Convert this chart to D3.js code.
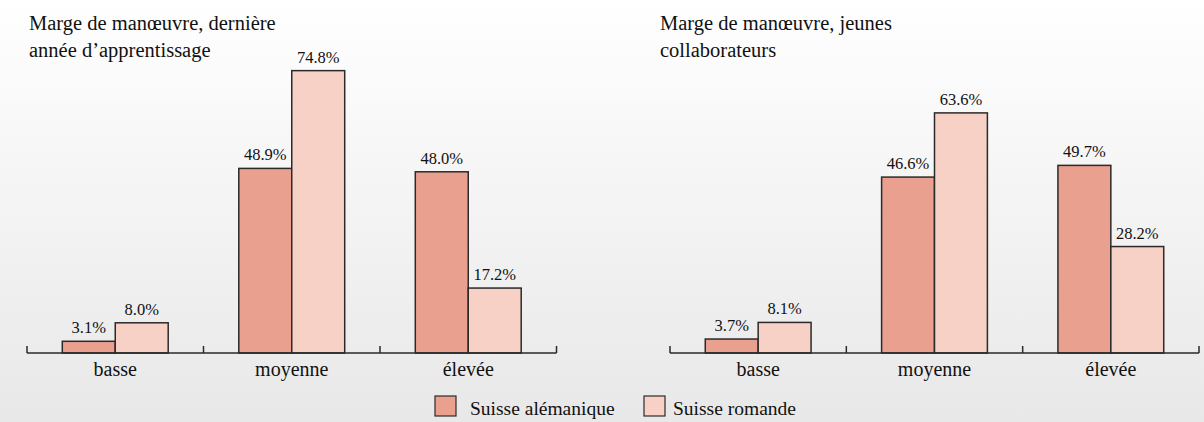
<!DOCTYPE html>
<html>
<head>
<meta charset="utf-8">
<script src="https://cdn.jsdelivr.net/npm/d3@7"></script>
<style>
  html, body { margin: 0; padding: 0; }
  body { width: 1204px; height: 422px; overflow: hidden; }
</style>
</head>
<body>
<script>
//categories, series and values
var categories = ["basse", "moyenne", "élevée"];
var seriesNames = ["Suisse alémanique", "Suisse romande"];
var titlesLeft = ["Marge de manœuvre, dernière", "année d’apprentissage"];
var titlesRight = ["Marge de manœuvre, jeunes", "collaborateurs"];
var apprentisAlemanique = [3.1, 48.9, 48.0];
var apprentisRomande = [8.0, 74.8, 17.2];
var jeunesAlemanique = [3.7, 46.6, 49.7];
var jeunesRomande = [8.1, 63.6, 28.2];

var colors = ["#e9a08f", "#f7d1c6"];
var fontFam = "'Liberation Serif', 'Times New Roman'";

var width = 1204, height = 422;

var svg = d3.select("body").append("svg")
  .attr("width", width)
  .attr("height", height);

//background gradient
var grad = svg.append("defs").append("linearGradient")
  .attr("id", "bg").attr("x1", 0).attr("y1", 0).attr("x2", 0).attr("y2", 1);
grad.append("stop").attr("offset", "0%").attr("stop-color", "#ffffff");
grad.append("stop").attr("offset", "100%").attr("stop-color", "#e8e8e8");
svg.append("rect").attr("width", width).attr("height", height).attr("fill", "url(#bg)");

var baseY = 353;
var y = d3.scaleLinear().domain([0, 80]).range([baseY, baseY - 302]);

function label(sel, size){
  return sel.style("font-family", fontFam)
    .style("font-size", size + "px")
    .style("fill", "#111");
}

function panel(x0, x1, titleX, titles, alem, rom){
  var g = svg.append("g");
  var x = d3.scaleBand().domain(categories).range([x0, x1]).paddingInner(0).paddingOuter(0);
  var bw = x.bandwidth();
  var xs = d3.scaleBand().domain(seriesNames).range([bw * 0.2, bw * 0.8]);

  //title
  label(g.selectAll(".title")
    .data(titles)
    .enter()
    .append("text")
    .attr("x", titleX)
    .attr("y", function(d, i){ return 30 + i * 27; }), 20.5)
    .text(function(d){ return d; });

  var rows = [];
  categories.forEach(function(c, i){
    rows.push({cat: c, s: seriesNames[0], v: alem[i], k: 0});
    rows.push({cat: c, s: seriesNames[1], v: rom[i], k: 1});
  });

  g.selectAll(".bar")
    .data(rows)
    .enter()
    .append("rect")
    .attr("x", function(d){ return x(d.cat) + xs(d.s); })
    .attr("width", xs.bandwidth())
    .attr("y", function(d){ return y(d.v); })
    .attr("height", function(d){ return baseY - y(d.v); })
    .attr("fill", function(d){ return colors[d.k]; })
    .attr("stroke", "#2a2a2a")
    .attr("stroke-width", 1.5);

  label(g.selectAll(".num")
    .data(rows)
    .enter()
    .append("text")
    .attr("text-anchor", "middle")
    .attr("x", function(d){ return x(d.cat) + xs(d.s) + xs.bandwidth() / 2; })
    .attr("y", function(d){ return y(d.v) - 8; }), 16.5)
    .text(function(d){ return d.v.toFixed(1) + "%"; });

  //axis: baseline with upward ticks at the band edges
  g.append("line")
    .attr("x1", x0).attr("x2", x1)
    .attr("y1", baseY).attr("y2", baseY)
    .attr("stroke", "#2a2a2a").attr("stroke-width", 1.5);
  var edges = categories.map(function(c){ return x(c); }).concat([x1]);
  g.selectAll(".tick")
    .data(edges)
    .enter()
    .append("line")
    .attr("x1", function(d){ return d; }).attr("x2", function(d){ return d; })
    .attr("y1", baseY).attr("y2", baseY - 7)
    .attr("stroke", "#2a2a2a").attr("stroke-width", 1.5);

  label(g.selectAll(".cat")
    .data(categories)
    .enter()
    .append("text")
    .attr("text-anchor", "middle")
    .attr("x", function(d){ return x(d) + bw / 2; })
    .attr("y", 376), 20)
    .text(function(d){ return d; });
}

panel(27, 556.5, 29, titlesLeft, apprentisAlemanique, apprentisRomande);
panel(670, 1199, 660, titlesRight, jeunesAlemanique, jeunesRomande);

//legend
var legendX = [435, 644];
var leg = svg.selectAll(".legend")
  .data(seriesNames)
  .enter()
  .append("g")
  .attr("transform", function(d, i){ return "translate(" + legendX[i] + ",396)"; });
leg.append("rect")
  .attr("width", 21).attr("height", 20)
  .attr("fill", function(d, i){ return colors[i]; })
  .attr("stroke", "#2a2a2a").attr("stroke-width", 1.2);
label(leg.append("text")
  .attr("x", function(d, i){ return i ? 29 : 35; }).attr("y", 19), 19.5)
  .text(function(d){ return d; });
</script>
</body>
</html>
